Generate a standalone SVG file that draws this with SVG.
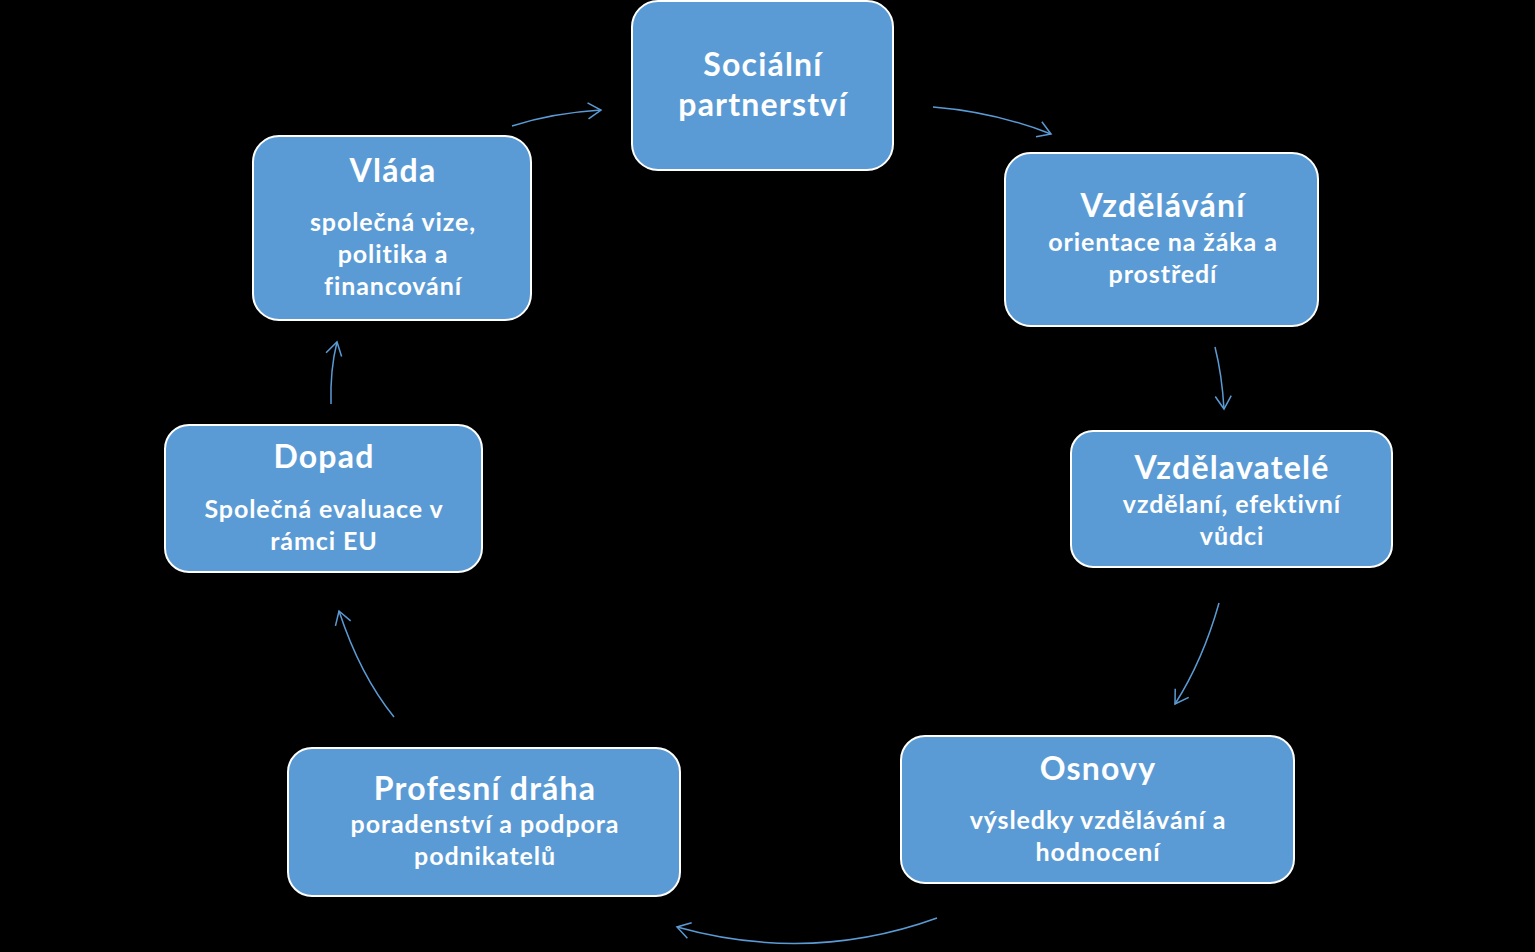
<svg xmlns="http://www.w3.org/2000/svg" width="1535" height="952" viewBox="0 0 1535 952">
<defs>
<style>
.box{fill:#5B9BD5;stroke:#FFFFFF;stroke-width:2}
.t{font-family:Lato,"Open Sans","Liberation Sans",sans-serif;font-weight:bold;fill:#FFFFFF;text-anchor:middle}
.h{font-size:32px;letter-spacing:1.2px}
.s{font-size:25px;letter-spacing:0.9px}
.c{fill:none;stroke:#5B9BD5;stroke-width:1.5}
</style>
<marker id="ah" markerUnits="userSpaceOnUse" markerWidth="30" markerHeight="30" viewBox="-15 -15 30 30" refX="0" refY="0" orient="auto">
<path d="M -13 -8 L 0 0 L -13 8" fill="none" stroke="#5B9BD5" stroke-width="1.5"/>
</marker>
</defs>
<rect width="1535" height="952" fill="#000000"/>
<g id="connectors">
<path class="c" d="M 512 126 Q 552 113 601 110" marker-end="url(#ah)"/>
<path class="c" d="M 933 107 Q 995 112 1051 134" marker-end="url(#ah)"/>
<path class="c" d="M 1215 347 Q 1222 375 1224 409" marker-end="url(#ah)"/>
<path class="c" d="M 1219 603 Q 1203 660 1175 704" marker-end="url(#ah)"/>
<path class="c" d="M 937 918 Q 810 964 677 927" marker-end="url(#ah)"/>
<path class="c" d="M 394 717 Q 360 675 339 611" marker-end="url(#ah)"/>
<path class="c" d="M 331 404 Q 330 370 337 342" marker-end="url(#ah)"/>
</g>
<g id="n-socialni">
<rect class="box" x="632" y="1" width="261" height="169" rx="26"/>
<text class="t h" x="763" y="76">Sociální</text>
<text class="t h" x="763" y="116">partnerství</text>
</g>
<g id="n-vzdelavani">
<rect class="box" x="1005" y="153" width="313" height="173" rx="26"/>
<text class="t h" x="1163" y="217">Vzdělávání</text>
<text class="t s" x="1163" y="251">orientace na žáka a</text>
<text class="t s" x="1163" y="283">prostředí</text>
</g>
<g id="n-vzdelavatele">
<rect class="box" x="1071" y="431" width="321" height="136" rx="22"/>
<text class="t h" x="1232" y="479">Vzdělavatelé</text>
<text class="t s" x="1232" y="513">vzdělaní, efektivní</text>
<text class="t s" x="1232" y="545">vůdci</text>
</g>
<g id="n-osnovy">
<rect class="box" x="901" y="736" width="393" height="147" rx="24"/>
<text class="t h" x="1098" y="780">Osnovy</text>
<text class="t s" x="1098" y="829">výsledky vzdělávání a</text>
<text class="t s" x="1098" y="861">hodnocení</text>
</g>
<g id="n-profesni">
<rect class="box" x="288" y="748" width="392" height="148" rx="24"/>
<text class="t h" x="485" y="800">Profesní dráha</text>
<text class="t s" x="485" y="833">poradenství a podpora</text>
<text class="t s" x="485" y="865">podnikatelů</text>
</g>
<g id="n-dopad">
<rect class="box" x="165" y="425" width="317" height="147" rx="24"/>
<text class="t h" x="324" y="468">Dopad</text>
<text class="t s" x="324" y="518">Společná evaluace v</text>
<text class="t s" x="324" y="550">rámci EU</text>
</g>
<g id="n-vlada">
<rect class="box" x="253" y="136" width="278" height="184" rx="26"/>
<text class="t h" x="393" y="182">Vláda</text>
<text class="t s" x="393" y="231">společná vize,</text>
<text class="t s" x="393" y="263">politika a</text>
<text class="t s" x="393" y="295">financování</text>
</g>
</svg>
